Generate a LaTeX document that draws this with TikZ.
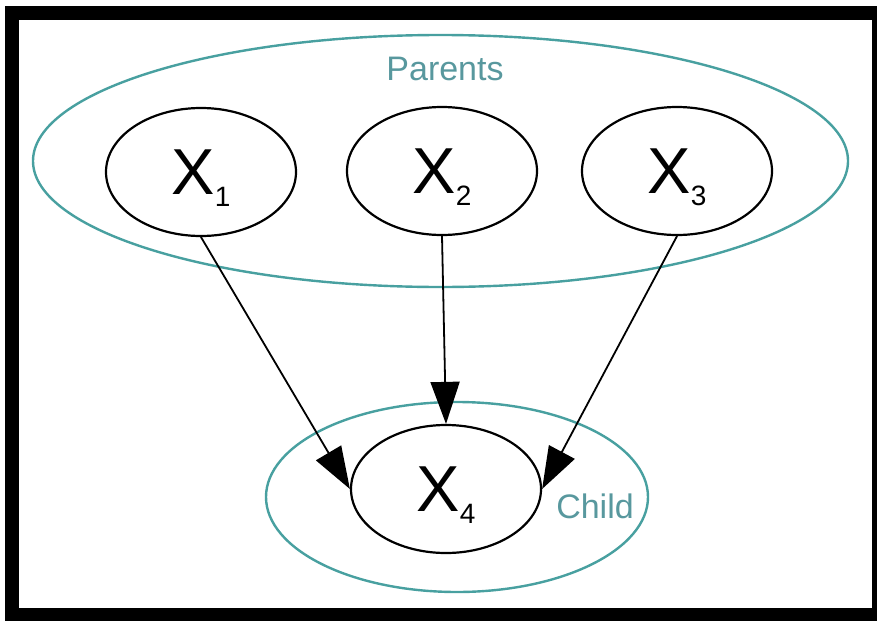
\documentclass[tikz,border=0pt]{standalone}
\usepackage{fontspec}
\setmainfont{Liberation Sans}
\usetikzlibrary{shapes.geometric,arrows.meta}

\definecolor{groupteal}{RGB}{72,160,160}
\definecolor{labelteal}{RGB}{88,152,158}

\newcommand{\Xsub}[1]{X\smash{\raisebox{-12pt}{\fontsize{28}{28}\selectfont #1}}}

\tikzset{
    var/.style={draw, ellipse, line width=2.2pt, minimum width=190pt, minimum height=128pt,
                inner sep=0pt, font=\fontsize{65}{65}\selectfont},
    group/.style={draw=groupteal, ellipse, line width=2.4pt, inner sep=0pt},
    grouplabel/.style={text=labelteal, inner sep=0pt, font=\fontsize{34}{34}\selectfont},
    edge/.style={line width=1.8pt, -{Triangle[length=42pt,width=29pt]}}
}

\begin{document}
\begin{tikzpicture}[line cap=round, line join=round, x=1pt, y=-1pt]

                \useasboundingbox (0,0) rectangle (877,621);
                \fill[black] (5,6) rectangle (877,621);
                \fill[white] (19,20) rectangle (872,608);

                % groups
                \node[group, minimum width=815pt, minimum height=252pt] (parents) at (440.5,161) {};
                \node[group, minimum width=382pt, minimum height=190pt] (child) at (457,497) {};
                \node[grouplabel] (parentslabel) at (445,69) {Parents};
                \node[grouplabel] (childlabel) at (595,506) {Child};

                % variables
                \node[var] (x1) at (201,172) {\Xsub{1}};
                \node[var] (x2) at (442,171) {\Xsub{2}};
                \node[var] (x3) at (677,171) {\Xsub{3}};
                \node[var] (x4) at (446,489) {\Xsub{4}};

                \draw[edge] (x1.south) -- (x4.west);
                \draw[edge] (x2.south) -- (x4.north);
                \draw[edge] (x3.south) -- (x4.east);

            \end{tikzpicture}
\end{document}
